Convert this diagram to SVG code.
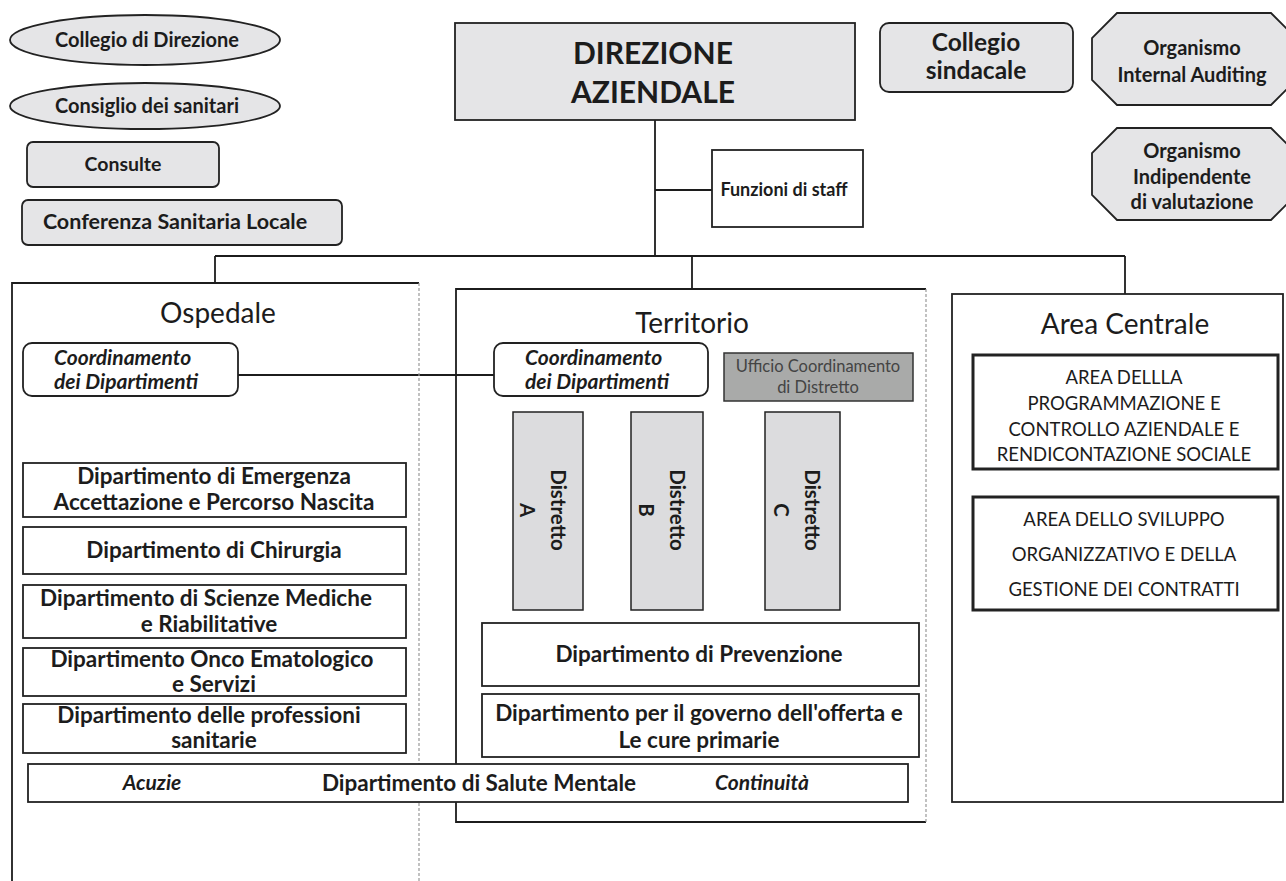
<svg xmlns="http://www.w3.org/2000/svg" width="1286" height="881" viewBox="0 0 1286 881">
<style>
  text { font-family: Lato, "Open Sans", "Liberation Sans", sans-serif; fill: #1c1c1c; }
  .b { font-weight: bold; }
  .i { font-style: italic; font-weight: bold; }
  .m { text-anchor: middle; }
  .shape { fill: #e5e5e7; stroke: #222; stroke-width: 1.8; }
  .box { fill: #ffffff; stroke: #222; stroke-width: 1.8; }
  .thick { fill: #ffffff; stroke: #222; stroke-width: 3; }
  .line { stroke: #1c1c1c; stroke-width: 1.8; fill: none; }
  .dash { stroke: #999; stroke-width: 1.2; stroke-dasharray: 3 2; fill: none; }
  .title { font-size: 28px; }
  .d { font-size: 22.5px; }
  .tl { font-size: 20px; }
  .co { font-size: 21px; }
  .ac { font-size: 18.5px; }
</style>
<rect width="1286" height="881" fill="#ffffff"/>

<g id="connectors">
  <line class="line" x1="655" y1="120" x2="655" y2="256"/>
  <line class="line" x1="655" y1="190" x2="712" y2="190"/>
  <line class="line" x1="215" y1="256" x2="1125" y2="256"/>
  <line class="line" x1="215" y1="256" x2="215" y2="283"/>
  <line class="line" x1="692" y1="256" x2="692" y2="289"/>
  <line class="line" x1="1125" y1="256" x2="1125" y2="294"/>
  <line class="line" x1="238" y1="375" x2="494" y2="375"/>
</g>

<g id="collegio-direzione">
  <ellipse class="shape" cx="145" cy="40" rx="135" ry="25"/>
  <text class="b m tl" x="147" y="47">Collegio di Direzione</text>
</g>
<g id="consiglio-sanitari">
  <ellipse class="shape" cx="145" cy="106" rx="135" ry="23"/>
  <text class="b m tl" x="147" y="113">Consiglio dei sanitari</text>
</g>
<g id="consulte">
  <rect class="shape" x="27" y="142" width="192" height="45" rx="6"/>
  <text class="b m" x="123" y="171" font-size="19.5">Consulte</text>
</g>
<g id="conferenza">
  <rect class="shape" x="22" y="200" width="320" height="45" rx="6"/>
  <text class="b m" x="175" y="229" font-size="21.5">Conferenza  Sanitaria Locale</text>
</g>

<g id="direzione-aziendale">
  <rect class="shape" x="455" y="23" width="400" height="97"/>
  <text class="b m" x="653" y="64" font-size="30">DIREZIONE</text>
  <text class="b m" x="653" y="103" font-size="30">AZIENDALE</text>
</g>

<g id="funzioni-staff">
  <rect class="box" x="712" y="150" width="151" height="77"/>
  <text class="b m" x="784" y="196" font-size="18">Funzioni di staff</text>
</g>

<g id="collegio-sindacale">
  <rect class="shape" x="880" y="23" width="193" height="69" rx="9"/>
  <text class="b m" x="976" y="51" font-size="24.5">Collegio</text>
  <text class="b m" x="976" y="79" font-size="24.5">sindacale</text>
</g>

<g id="internal-auditing">
  <polygon class="shape" points="1117,13 1271,13 1296,38 1296,80 1271,105 1117,105 1092,80 1092,38"/>
  <text class="b m tl" x="1192" y="55">Organismo</text>
  <text class="b m tl" x="1192" y="82">Internal Auditing</text>
</g>

<g id="oiv">
  <polygon class="shape" points="1117,128 1271,128 1296,153 1296,195 1271,220 1117,220 1092,195 1092,153"/>
  <text class="b m tl" x="1192" y="158">Organismo</text>
  <text class="b m tl" x="1192" y="184">Indipendente</text>
  <text class="b m tl" x="1192" y="209">di valutazione</text>
</g>

<g id="ospedale">
  <polyline class="line" points="12,881 12,283 419,283"/>
  <line class="dash" x1="419" y1="283" x2="419" y2="881"/>
  <text class="title m" x="218" y="323">Ospedale</text>
</g>

<g id="territorio">
  <polyline class="line" points="926,822 456,822 456,289 926,289"/>
  <line class="dash" x1="926" y1="289" x2="926" y2="822"/>
  <text class="title m" x="692" y="333">Territorio</text>
</g>

<g id="area-centrale">
  <rect class="box" x="952" y="294" width="331" height="508"/>
  <text class="title m" x="1125" y="334">Area Centrale</text>
</g>

<g id="coord-osp">
  <rect class="box" x="23" y="343" width="215" height="53" rx="9"/>
  <text class="i co" x="54" y="365">Coordinamento</text>
  <text class="i co" x="54" y="389">dei Dipartimenti</text>
</g>

<g id="coord-terr">
  <rect class="box" x="494" y="343" width="214" height="53" rx="9"/>
  <text class="i co" x="525" y="365">Coordinamento</text>
  <text class="i co" x="525" y="389">dei Dipartimenti</text>
</g>

<g id="ufficio-coord">
  <rect x="724" y="353" width="189" height="48" fill="#a9aaa9" stroke="#333" stroke-width="1.5"/>
  <text class="m" x="818" y="372" font-size="16.5" style="fill:#444">Ufficio  Coordinamento</text>
  <text class="m" x="818" y="393" font-size="16.5" style="fill:#444">di Distretto</text>
</g>

<g id="distretto-a">
  <rect x="513" y="412" width="70" height="198" fill="#dcdcde" stroke="#222" stroke-width="1.5"/>
  <g transform="translate(548,510) rotate(90)">
    <text class="b m" font-size="20.5" x="0" y="-3">Distretto</text>
    <text class="b m" font-size="20.5" x="0" y="28">A</text>
  </g>
</g>
<g id="distretto-b">
  <rect x="631" y="412" width="72" height="198" fill="#dcdcde" stroke="#222" stroke-width="1.5"/>
  <g transform="translate(667,510) rotate(90)">
    <text class="b m" font-size="20.5" x="0" y="-3">Distretto</text>
    <text class="b m" font-size="20.5" x="0" y="28">B</text>
  </g>
</g>
<g id="distretto-c">
  <rect x="765" y="412" width="75" height="198" fill="#dcdcde" stroke="#222" stroke-width="1.5"/>
  <g transform="translate(802,510) rotate(90)">
    <text class="b m" font-size="20.5" x="0" y="-3">Distretto</text>
    <text class="b m" font-size="20.5" x="0" y="28">C</text>
  </g>
</g>

<g id="dip-emergenza">
  <rect class="box" x="23" y="463" width="383" height="54"/>
  <text class="b m d" x="214" y="484">Dipartimento di Emergenza</text>
  <text class="b m d" x="214" y="510">Accettazione e Percorso Nascita</text>
</g>
<g id="dip-chirurgia">
  <rect class="box" x="23" y="527" width="383" height="47"/>
  <text class="b m d" x="214" y="558">Dipartimento di Chirurgia</text>
</g>
<g id="dip-scienze">
  <rect class="box" x="23" y="585" width="383" height="53"/>
  <text class="b m d" x="206" y="606">Dipartimento di Scienze Mediche</text>
  <text class="b m d" x="209" y="632">e Riabilitative</text>
</g>
<g id="dip-onco">
  <rect class="box" x="23" y="648" width="383" height="48"/>
  <text class="b m d" x="212" y="667">Dipartimento Onco Ematologico</text>
  <text class="b m d" x="214" y="692">e Servizi</text>
</g>
<g id="dip-professioni">
  <rect class="box" x="23" y="704" width="383" height="49"/>
  <text class="b m d" x="209" y="723">Dipartimento delle professioni</text>
  <text class="b m d" x="214" y="748">sanitarie</text>
</g>

<g id="dip-prevenzione">
  <rect class="box" x="482" y="623" width="437" height="63"/>
  <text class="b m d" x="699" y="662">Dipartimento di Prevenzione</text>
</g>
<g id="dip-governo">
  <rect class="box" x="482" y="694" width="437" height="63"/>
  <text class="b m d" x="699" y="721">Dipartimento per il governo dell'offerta e</text>
  <text class="b m d" x="699" y="748">Le cure primarie</text>
</g>

<g id="dip-salute-mentale">
  <rect class="box" x="28" y="764" width="880" height="38"/>
  <text class="i m" x="152" y="790" font-size="21">Acuzie</text>
  <text class="b m d" x="479" y="791">Dipartimento di Salute Mentale</text>
  <text class="i m" x="762" y="790" font-size="21">Continuità</text>
</g>

<g id="area-programmazione">
  <rect class="thick" x="973" y="355" width="305" height="114"/>
  <text class="m ac" x="1124" y="384">AREA DELLLA</text>
  <text class="m ac" x="1124" y="410">PROGRAMMAZIONE  E</text>
  <text class="m ac" x="1124" y="436">CONTROLLO AZIENDALE E</text>
  <text class="m ac" x="1124" y="461">RENDICONTAZIONE SOCIALE</text>
</g>
<g id="area-sviluppo">
  <rect class="thick" x="973" y="497" width="305" height="113"/>
  <text class="m ac" x="1124" y="526">AREA DELLO SVILUPPO</text>
  <text class="m ac" x="1124" y="561">ORGANIZZATIVO E DELLA</text>
  <text class="m ac" x="1124" y="596">GESTIONE DEI CONTRATTI</text>
</g>
</svg>
